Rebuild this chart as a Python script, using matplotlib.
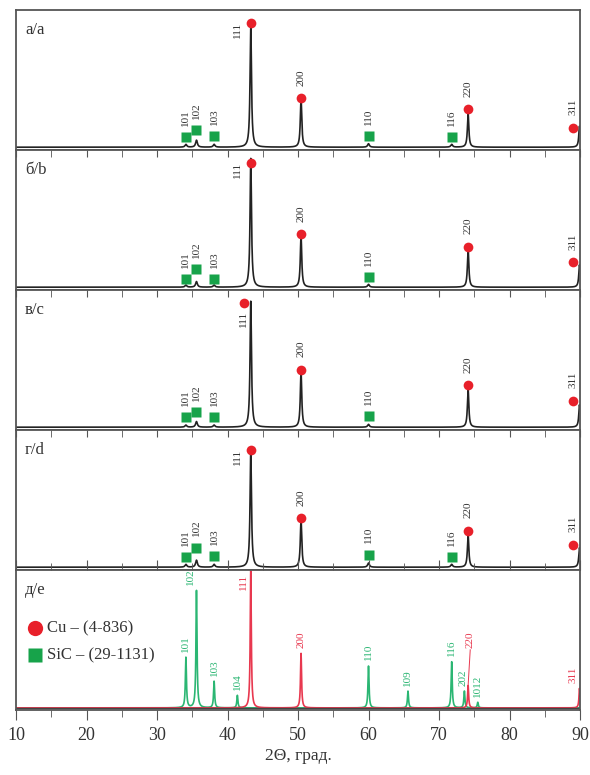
import numpy as np
import matplotlib.pyplot as plt

plt.rcParams['font.family'] = ['Liberation Serif', 'DejaVu Serif']

# peak positions (2theta, deg) and Miller indices
cu_pos = [43.3, 50.43, 74.13, 89.93]
cu_hkl = ['111', '200', '220', '311']
sic_pos = [34.1, 35.6, 38.1, 41.4, 60.0, 65.6, 71.8, 73.6, 75.5]
sic_hkl = ['101', '102', '103', '104', '110', '109', '116', '202', '1012']

panel_names = ['а/а', 'б/b', 'в/с', 'г/d']

# measured patterns, peak heights as fraction of panel height
cu_heights = [
    [0.87, 0.35, 0.24, 0.15],
    [0.92, 0.37, 0.27, 0.16],
    [0.90, 0.40, 0.27, 0.16],
    [0.83, 0.34, 0.23, 0.14],
]
sic_heights = [
    [0.02, 0.05, 0.02, 0.0, 0.025, 0.0, 0.02, 0.0, 0.0],
    [0.015, 0.04, 0.015, 0.0, 0.02, 0.0, 0.0, 0.0, 0.0],
    [0.015, 0.04, 0.015, 0.0, 0.02, 0.0, 0.0, 0.0, 0.0],
    [0.02, 0.05, 0.02, 0.0, 0.03, 0.0, 0.02, 0.0, 0.0],
]
# marker heights (None = not marked)
cu_mark_y = [
    [0.91, 0.37, 0.29, 0.16],
    [0.91, 0.40, 0.31, 0.20],
    [0.91, 0.43, 0.32, 0.21],
    [0.86, 0.37, 0.28, 0.18],
]
sic_mark_y = [
    [0.09, 0.14, 0.10, None, 0.10, None, 0.09, None, None],
    [0.08, 0.15, 0.08, None, 0.09, None, None, None, None],
    [0.09, 0.13, 0.09, None, 0.10, None, None, None, None],
    [0.09, 0.16, 0.10, None, 0.11, None, 0.09, None, None],
]
# where the 111 label goes relative to its marker
label_111 = ['left', 'left', 'below', 'left']

# reference cards (panel d/e)
ref_cu_heights = [0.98, 0.39, 0.16, 0.14]
ref_sic_heights = [0.36, 0.84, 0.19, 0.09, 0.30, 0.12, 0.33, 0.12, 0.04]

RED = '#e8202a'
GREEN = '#17a34a'
LRED = '#e8384f'
LGREEN = '#2bb673'
TXT = '#333333'

x = np.linspace(10, 90, 6000)


def profile(pos, heights, w):
    y = np.zeros_like(x)
    for p, h in zip(pos, heights):
        y += h / (1 + ((x - p) / w) ** 2)
    return y


fig = plt.figure(figsize=(5.9, 7.75), dpi=100)
left, width = 16 / 590, 564 / 590
ph = 140 / 775
axes = []
for i in range(5):
    bottom = 1 - (10 + 140 * (i + 1)) / 775
    ax = fig.add_axes([left, bottom, width, ph])
    ax.set_xlim(10, 90)
    ax.set_ylim(0, 1)
    ax.set_yticks([])
    for s in ax.spines.values():
        s.set_color('#555555')
        s.set_linewidth(1.3)
    ax.set_xticks(np.arange(10, 91, 10))
    ax.set_xticks(np.arange(15, 90, 10), minor=True)
    if i < 4:
        ax.tick_params(axis='x', which='both', bottom=False, labelbottom=False,
                       top=(i > 0), direction='in', length=5, color='#555555')
    else:
        ax.tick_params(axis='x', which='both', top=True, direction='out',
                       color='#555555', labelsize=13, pad=5, labelcolor=TXT)
        ax.tick_params(axis='x', which='major', length=7)
        ax.tick_params(axis='x', which='minor', length=5)
    axes.append(ax)

for i in range(4):
    ax = axes[i]
    y = 0.02 + profile(cu_pos, cu_heights[i], 0.12) + profile(sic_pos, sic_heights[i], 0.15)
    ax.plot(x, y, color='#222222', lw=1.2)
    ax.text(0.016, 0.86, panel_names[i], transform=ax.transAxes, fontsize=12,
            va='center', ha='left', color=TXT)
    for p, my, hkl in zip(cu_pos, cu_mark_y[i], cu_hkl):
        mx = min(p, 89.0)
        if hkl == '111' and label_111[i] == 'below':
            mx = p - 1.0
        ax.plot(mx, my, 'o', color=RED, ms=7, mec='none')
        if hkl == '111':
            if label_111[i] == 'left':
                ax.annotate(hkl, (mx, my), xytext=(-9.5, -5), textcoords='offset points',
                            rotation=90, fontsize=8, ha='center', va='center', color=TXT)
            else:
                ax.annotate(hkl, (mx, my), xytext=(0, -6), textcoords='offset points',
                            rotation=90, fontsize=8, ha='center', va='top', color=TXT)
        else:
            ax.annotate(hkl, (mx, my), xytext=(0, 9), textcoords='offset points',
                        rotation=90, fontsize=8, ha='center', va='bottom', color=TXT)
    for p, my, hkl in zip(sic_pos, sic_mark_y[i], sic_hkl):
        if my is None:
            continue
        ax.plot(p, my, 's', color=GREEN, ms=6.5, mec='none')
        ax.annotate(hkl, (p, my), xytext=(0, 8), textcoords='offset points',
                    rotation=90, fontsize=8, ha='center', va='bottom', color=TXT)

# reference panel
ax = axes[4]
y_sic = profile(sic_pos, ref_sic_heights, 0.09)
y_cu = profile(cu_pos, ref_cu_heights, 0.09)
ax.plot(x, 0.015 + y_sic, color=LGREEN, lw=1.2)
ax.plot(x, 0.015 + y_cu, color=LRED, lw=1.2)
ax.axhline(0.015, color='#444444', lw=1.0)
ax.text(0.016, 0.86, 'д/е', transform=ax.transAxes, fontsize=12,
        va='center', ha='left', color=TXT)

for p, h, hkl in zip(sic_pos, ref_sic_heights, sic_hkl):
    dx = -4 if hkl == '102' else 0
    if hkl == '202':
        dx = -1
    ax.annotate(hkl, (p, 0.015 + h), xytext=(dx, 4), textcoords='offset points',
                rotation=90, fontsize=8, ha='center', va='bottom', color=LGREEN)
for p, h, hkl in zip(cu_pos, ref_cu_heights, cu_hkl):
    if hkl == '111':
        ax.annotate(hkl, (p, 0.015 + h), xytext=(-5, -2), textcoords='offset points',
                    rotation=90, fontsize=8, ha='center', va='top', color=LRED)
    elif hkl == '220':
        ax.plot([p, p + 0.3], [0.015 + h, 0.43], color=LRED, lw=0.7)
        ax.annotate(hkl, (p + 0.3, 0.43), xytext=(0, 1), textcoords='offset points',
                    rotation=90, fontsize=8, ha='center', va='bottom', color=LRED)
    elif hkl == '311':
        ax.annotate(hkl, (89.0, 0.015 + h), xytext=(0, 4), textcoords='offset points',
                    rotation=90, fontsize=8, ha='center', va='bottom', color=LRED)
    else:
        ax.annotate(hkl, (p, 0.015 + h), xytext=(0, 4), textcoords='offset points',
                    rotation=90, fontsize=8, ha='center', va='bottom', color=LRED)

ax.plot(12.7, 0.585, 'o', color=RED, ms=11, mec='none')
ax.text(14.4, 0.585, 'Cu – (4-836)', fontsize=12, va='center', color=TXT)
ax.plot(12.7, 0.39, 's', color=GREEN, ms=10, mec='none')
ax.text(14.4, 0.39, 'SiC – (29-1131)', fontsize=12, va='center', color=TXT)

ax.set_xlabel('2Θ, град.', fontsize=12.5, labelpad=3, color=TXT)

fig.savefig('out.png', dpi=100)
